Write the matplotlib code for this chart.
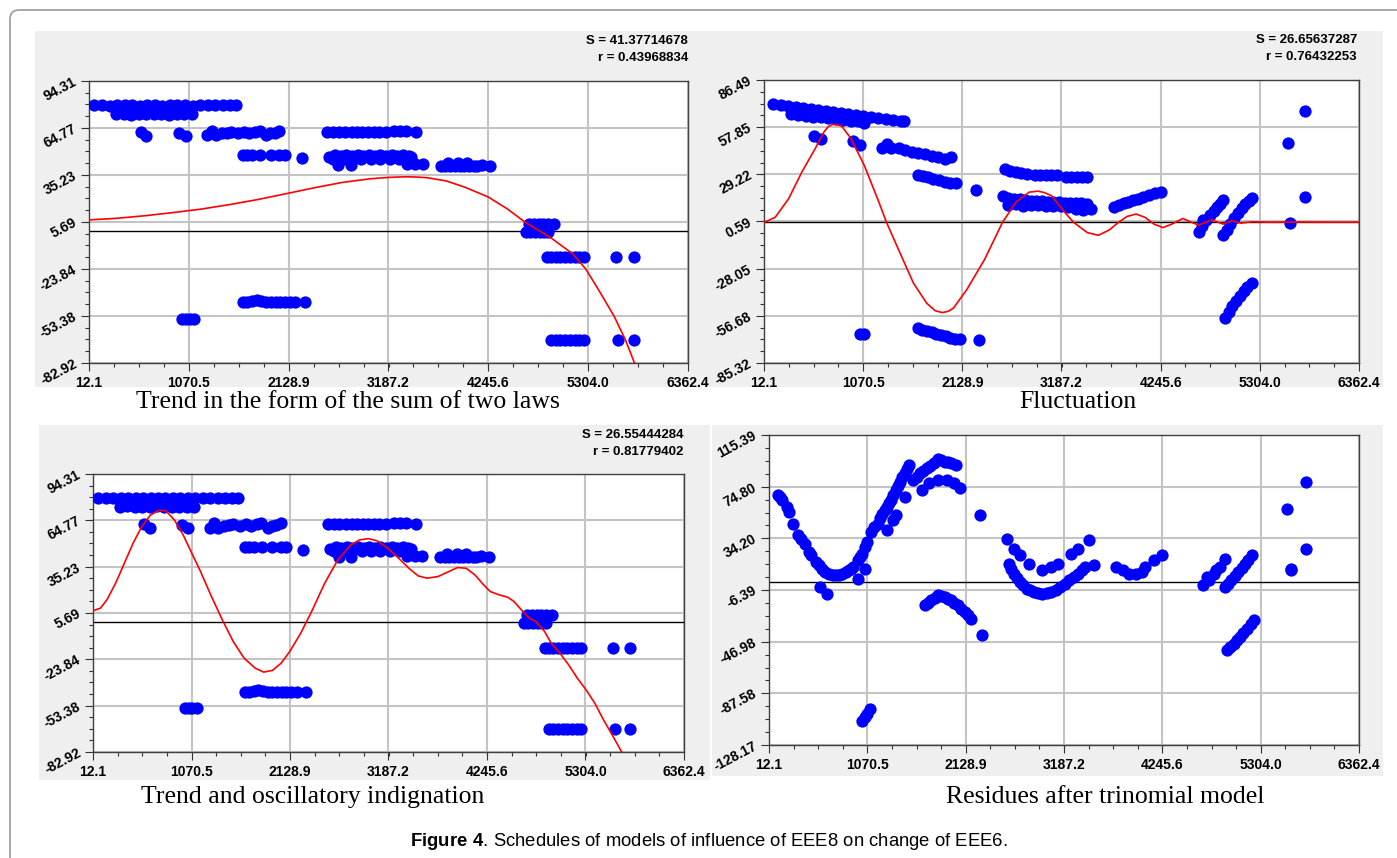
import matplotlib
matplotlib.use("Agg")
import matplotlib.pyplot as plt
from matplotlib.patches import Rectangle, FancyBboxPatch
from matplotlib.ticker import AutoMinorLocator
from matplotlib.transforms import IdentityTransform

plt.rcParams["font.family"] = ["Liberation Sans", "DejaVu Sans"]
plt.rcParams["mathtext.fontset"] = "custom"
plt.rcParams["mathtext.rm"] = "Liberation Sans"
plt.rcParams["mathtext.bf"] = "Liberation Sans:bold"

# ---- axis ticks -------------------------------------------------------------
x_ticks = [12.1, 1070.5, 2128.9, 3187.2, 4245.6, 5304.0, 6362.4]
x_tick_labels = ["12.1", "1070.5", "2128.9", "3187.2", "4245.6", "5304.0", "6362.4"]

trend_yticks = [-82.92, -53.38, -23.84, 5.69, 35.23, 64.77, 94.31]
fluct_yticks = [-85.32, -56.68, -28.05, 0.59, 29.22, 57.85, 86.49]
resid_yticks = [-128.17, -87.58, -46.98, -6.39, 34.20, 74.80, 115.39]

# ---- observed EEE6 values (same points in panels 1 and 3) --------------------
trend_points = [
    # top band
    (70, 79.0), (150, 79.2), (230, 78.9), (310, 79.1), (390, 79.0), (470, 79.2),
    (550, 78.9), (630, 79.0), (710, 79.1), (790, 78.9), (870, 79.0), (950, 79.2),
    (1030, 79.0), (1110, 78.9), (1190, 79.1), (1270, 79.0), (1350, 79.0),
    (1430, 79.1), (1510, 79.0), (1566, 79.0),
    (300, 73.4), (380, 73.6), (460, 73.2), (540, 73.5), (620, 73.3), (700, 73.6),
    (780, 73.4), (860, 73.2), (940, 73.5), (1020, 73.3), (1100, 73.4),
    # around 60
    (565, 62.2), (621, 59.7), (967, 61.8), (1036, 59.7), (1266, 60.1), (1312, 62.8),
    (1359, 60.1), (1420, 61.4), (1474, 61.8), (1520, 62.2), (1589, 61.4),
    (1658, 62.2), (1705, 61.4), (1774, 62.2), (1820, 62.8), (1889, 60.1),
    (1935, 61.4), (1981, 61.8), (2027, 62.8),
    (1640, 48.0), (1690, 48.0), (1740, 48.0), (1830, 48.0), (1940, 48.0),
    (2030, 48.0), (2090, 48.0), (2272, 46.1),
    (2540, 62.4), (2600, 62.4), (2660, 62.4), (2730, 62.4), (2800, 62.4),
    (2850, 62.4), (2910, 62.4), (2970, 62.4), (3030, 62.4), (3090, 62.4),
    (3160, 62.4), (3250, 63.0), (3310, 63.0), (3370, 62.8), (3480, 62.2),
    # around 46
    (2560, 46.5), (2620, 47.5), (2680, 47.0), (2740, 47.5), (2800, 47.0),
    (2860, 47.5), (2920, 47.0), (2980, 47.5), (3040, 47.0), (3100, 47.5),
    (3160, 47.0), (3220, 47.5), (3280, 47.0), (3340, 47.5), (3400, 47.0),
    (3430, 46.5),
    (2600, 45.0), (2700, 45.0), (2800, 45.0), (2900, 45.0), (3000, 45.0),
    (3100, 45.0), (3200, 45.0), (3300, 45.0), (3400, 44.5),
    (2650, 41.5), (2788, 41.5), (3388, 42.3), (3470, 42.3), (3550, 42.3),
    (3740, 41.2), (3790, 41.2), (3840, 41.2), (3890, 41.2), (3940, 41.2),
    (3990, 41.2), (4040, 41.2), (4090, 41.2), (4126, 41.2), (4180, 41.8),
    (4264, 41.2), (3820, 43.0), (3920, 43.0), (4020, 43.0),
    # near zero
    (4680, 4.5), (4730, 4.5), (4780, 4.5), (4830, 4.5), (4880, 4.5), (4940, 4.5),
    (4640, -0.5), (4690, -0.5), (4740, -0.5), (4790, -0.5), (4840, -0.5),
    (4880, -0.5),
    (4865, -16.4), (4910, -16.4), (4960, -16.4), (5010, -16.4), (5060, -16.4),
    (5110, -16.4), (5160, -16.4), (5210, -16.4), (5255, -16.4), (5601, -16.4),
    (5786, -16.4),
    # negative
    (1640, -44.7), (1690, -44.7), (1740, -44.2), (1790, -43.6), (1840, -44.2),
    (1890, -44.7), (1940, -44.7), (1990, -44.7), (2040, -44.7), (2090, -44.7),
    (2140, -44.7), (2200, -44.7), (2305, -44.7),
    (1000, -55.0), (1040, -55.0), (1080, -55.0), (1125, -55.0),
    (4910, -68.2), (4960, -68.2), (5010, -68.2), (5060, -68.2), (5110, -68.2),
    (5160, -68.2), (5210, -68.2), (5255, -68.2), (5625, -68.2), (5786, -68.2),
]

# ---- values after the trend is removed (panel 2) -----------------------------
fluct_points = [
    (110, 71.8), (190, 71.3), (270, 70.7), (350, 70.1), (430, 69.5), (510, 68.9),
    (590, 68.3), (670, 67.8), (750, 67.2), (830, 66.6), (910, 66.0), (990, 65.4),
    (1070, 64.8), (1150, 64.3), (1230, 63.7), (1310, 63.1), (1390, 62.5),
    (1470, 61.9), (1510, 61.6),
    (300, 65.7), (380, 65.3), (460, 64.8), (540, 64.3), (620, 63.8), (700, 63.3),
    (780, 62.8), (860, 62.3), (940, 61.8), (1020, 61.3), (1080, 60.6),
    (550, 52.4), (616, 50.4), (963, 49.4), (1035, 47.3),
    (1275, 45.3), (1320, 47.5), (1370, 45.5), (1450, 45.0), (1520, 44.0),
    (1590, 43.0), (1660, 42.0), (1730, 41.5), (1800, 40.5), (1870, 39.5),
    (1940, 38.6), (2010, 39.5),
    (1655, 28.9), (1710, 28.0), (1760, 27.6), (1820, 26.5), (1880, 25.6),
    (1940, 24.6), (2000, 24.0), (2057, 23.8), (2271, 19.8),
    (2581, 32.6), (2640, 31.5), (2700, 30.6), (2760, 30.0), (2820, 29.7),
    (2900, 29.0), (2960, 28.9), (3020, 28.9), (3080, 28.9), (3140, 28.9),
    (3230, 27.9), (3290, 27.9), (3350, 27.9), (3410, 27.9), (3461, 27.9),
    (2560, 15.8), (2620, 15.0), (2680, 14.5), (2740, 14.0), (2800, 13.6),
    (2860, 13.3), (2920, 13.0), (2980, 12.8), (3040, 12.6), (3100, 12.4),
    (3160, 12.2), (3220, 12.0), (3280, 11.8), (3340, 11.8), (3400, 11.8),
    (3460, 11.5),
    (2620, 10.5), (2700, 11.2), (2780, 10.0), (2860, 10.8), (2940, 10.5),
    (3020, 10.2), (3100, 10.0), (3180, 9.8), (3260, 9.5), (3340, 8.0),
    (3420, 7.8), (3500, 8.0),
    (3746, 9.6), (3800, 10.6), (3850, 11.6), (3900, 12.6), (3950, 13.6),
    (4000, 14.5), (4060, 15.5), (4120, 16.8), (4180, 17.8), (4245, 18.7),
    (4650, -5.7), (4690, -2.0), (4698, 1.4), (4730, 1.5), (4770, 4.5),
    (4810, 7.0), (4850, 9.5), (4880, 11.5), (4911, 13.6),
    (4911, -7.8), (4950, -4.5), (4990, -1.0), (5030, 2.5), (5070, 5.5),
    (5110, 8.5), (5150, 11.0), (5190, 13.0), (5220, 14.7),
    (4935, -57.8), (4970, -54.5), (5010, -51.0), (5050, -47.5), (5090, -44.5),
    (5130, -41.5), (5170, -39.0), (5220, -37.0),
    (5601, 48.3), (5782, 67.7), (5782, 15.3), (5625, -0.6),
    (1040, -68.0), (1075, -68.0),
    (1653, -63.9), (1700, -65.0), (1750, -66.0), (1800, -66.8), (1850, -67.7),
    (1900, -68.5), (1950, -69.2), (2000, -70.0), (2050, -70.6), (2100, -71.0),
    (2309, -71.4),
]

# ---- residues after trinomial model (panel 4) -------------------------------
resid_points = [
    (108, 68.2), (132, 66.3), (156, 64.2), (203, 59.0), (227, 55.0), (275, 45.8),
    (323, 36.6), (361, 34.0), (395, 30.1), (443, 23.5), (467, 20.9), (515, 15.7),
    (553, 13.0), (586, 10.4), (620, 7.8), (658, 6.5), (696, 5.7), (730, 5.2),
    (763, 5.7), (802, 6.5), (840, 7.8), (873, 9.1), (897, 9.9), (921, 11.7),
    (969, 17.0), (993, 19.6), (1017, 22.2), (1041, 27.5), (1065, 31.4),
    (562, -4.0), (634, -9.3), (969, 2.5), (1041, 10.4),
    (1113, 39.3), (1146, 43.2), (1184, 45.8), (1208, 49.8), (1232, 53.7),
    (1256, 56.3), (1280, 59.0), (1304, 61.6), (1328, 64.2), (1352, 68.1),
    (1376, 72.1), (1400, 75.2), (1424, 78.6), (1448, 82.1), (1472, 85.2),
    (1496, 88.4), (1519, 91.8),
    (1280, 40.6), (1352, 48.5), (1376, 52.4), (1472, 66.8),
    (1567, 79.9), (1606, 82.6), (1639, 85.2), (1673, 87.3), (1711, 89.1),
    (1745, 91.2), (1783, 93.1), (1831, 96.2), (1864, 95.7), (1902, 94.4),
    (1941, 93.9), (1974, 93.1), (2022, 91.8),
    (1663, 72.1), (1735, 77.3), (1831, 80.0), (1927, 80.0), (1998, 77.3),
    (2070, 73.4), (2285, 52.4),
    (1687, -18.5), (1720, -16.6), (1759, -14.5), (1797, -12.4), (1831, -10.6),
    (1864, -11.1), (1902, -11.9), (1941, -13.2), (1974, -14.5), (2008, -16.4),
    (2046, -18.5), (2084, -21.1), (2118, -23.7), (2151, -26.3), (2190, -29.0),
    (2309, -42.1),
    (1017, -109.0), (1041, -106.0), (1065, -103.8), (1103, -99.8),
    (2572, 34.0), (2644, 26.2), (2716, 20.9), (2811, 13.8),
    (2596, 14.4), (2620, 10.4), (2644, 6.5), (2678, 3.1), (2716, 0.0),
    (2750, -2.7), (2788, -5.3), (2821, -6.6), (2859, -7.9), (2907, -8.8),
    (2955, -9.3), (3003, -8.8), (3051, -7.9), (3099, -6.1), (3146, -4.0),
    (3194, -1.4), (3242, 1.2), (3290, 3.9), (3338, 6.5), (3376, 9.1),
    (3410, 11.7), (3505, 13.0),
    (2955, 9.1), (3051, 11.7), (3123, 14.4),
    (3266, 22.2), (3338, 26.2), (3458, 32.7),
    (3745, 11.7), (3817, 9.1), (3889, 6.5), (3960, 5.9), (4032, 7.8),
    (4056, 11.7), (4152, 17.0), (4247, 20.9),
    (4678, -2.7), (4726, 3.9), (4750, 1.2), (4798, 5.9), (4822, 9.1),
    (4870, 11.7), (4918, 18.3),
    (4918, -4.0), (4956, -1.4), (4990, 1.2), (5028, 4.4), (5062, 7.8),
    (5100, 11.2), (5134, 14.4), (5168, 17.5), (5206, 20.9),
    (4941, -53.9), (4975, -51.3), (5014, -48.6), (5052, -46.0), (5086, -43.4),
    (5119, -40.2), (5158, -36.8), (5196, -33.4), (5230, -30.3),
    (5587, 57.6), (5630, 10.4), (5635, 9.1), (5787, 78.6), (5787, 26.2),
]

# ---- model curves -------------------------------------------------------------
trend_curve_x = [12, 300, 600, 900, 1200, 1500, 1800, 2128, 2400, 2700, 3000,
                 3187, 3300, 3400, 3500, 3600, 3800, 4000, 4245, 4450, 4633,
                 4910, 5140, 5278, 5420, 5578, 5700, 5795]
trend_curve_y = [7.0, 8.0, 9.6, 11.6, 13.8, 16.6, 19.8, 23.8, 27.2, 30.6, 32.9,
                 33.7, 34.0, 34.1, 33.9, 33.5, 31.5, 27.5, 21.4, 13.8, 5.7,
                 -4.3, -14.3, -23.8, -37.5, -53.4, -68.5, -82.9]

fluct_curve_x = [12, 131, 274, 416, 559, 654, 700, 749, 800, 845, 940, 1082,
                 1225, 1320, 1463, 1606, 1748, 1840, 1915, 1980, 2034, 2176,
                 2367, 2557, 2700, 2842, 2938, 3000, 3080, 3223, 3318, 3461,
                 3580, 3699, 3794, 3889, 3984, 4079, 4174, 4269, 4364, 4483,
                 4578, 4650, 4793, 4911, 5006, 5101, 5220, 5400, 5700, 6000, 6362]
fluct_curve_y = [0.0, 3.1, 14.3, 30.6, 44.9, 55.1, 58.3, 59.6, 59.3, 58.2, 51.0,
                 34.7, 14.3, 0.0, -18.4, -36.7, -49.0, -53.6, -54.7, -53.9,
                 -52.0, -40.8, -22.4, 0.0, 12.2, 18.4, 19.0, 18.2, 16.3, 6.1,
                 0.0, -6.1, -7.8, -4.5, 0.0, 3.7, 5.1, 3.1, -1.0, -3.1, -1.0,
                 2.4, 0.0, -1.6, 1.6, -1.0, 1.0, -0.4, 0.4, 0.2, 0.3, 0.2, 0.2]

osc_curve_x = [12, 92, 162, 255, 349, 443, 536, 630, 723, 794, 887, 981, 1074,
               1168, 1285, 1402, 1519, 1636, 1753, 1846, 1940, 2034, 2127, 2244,
               2361, 2502, 2642, 2783, 2876, 2970, 3063, 3180, 3297, 3414, 3508,
               3601, 3718, 3835, 3929, 4023, 4116, 4210, 4280, 4374, 4467, 4537,
               4631, 4701, 4771, 4865, 4935, 5029, 5122, 5216, 5309, 5403, 5496,
               5590, 5693]
osc_curve_y = [7.1, 8.8, 14.1, 24.7, 37.4, 50.2, 60.8, 68.2, 71.2, 70.9, 65.0,
               55.5, 43.8, 32.1, 16.2, 1.3, -12.5, -23.1, -29.4, -32.0, -30.9,
               -26.3, -18.8, -7.2, 6.6, 24.7, 39.5, 49.1, 52.3, 53.1, 51.8, 47.0,
               40.6, 33.8, 29.3, 27.9, 28.9, 32.1, 34.7, 34.2, 30.0, 23.6, 19.4,
               17.3, 15.8, 13.0, 6.6, 2.4, 0.3, -6.1, -13.5, -19.9, -27.3, -35.8,
               -43.2, -51.7, -62.3, -71.9, -82.9]

W, H = 1397, 858


def px_axes(fig, left, top, right, bottom):
    """Add an axes given its box in image pixels (origin top-left)."""
    return fig.add_axes([left / W, 1 - bottom / H, (right - left) / W, (bottom - top) / H])


def gray_box(fig, left, top, right, bottom):
    fig.patches.append(Rectangle((left / W, 1 - bottom / H), (right - left) / W,
                                 (bottom - top) / H, transform=fig.transFigure,
                                 facecolor="#efefef", edgecolor="none", zorder=-2))


def setup_axes(ax, yticks):
    ax.set_xlim(x_ticks[0], x_ticks[-1])
    ax.set_ylim(yticks[0], yticks[-1])
    ax.set_xticks(x_ticks)
    ax.set_xticklabels(x_tick_labels, fontsize=10, fontweight="bold")
    ax.set_yticks(yticks)
    ax.set_yticklabels([f"{v:.2f}" for v in yticks], fontsize=10, fontweight="bold",
                       rotation=28, ha="right", va="center", rotation_mode="anchor")
    ax.xaxis.set_minor_locator(AutoMinorLocator(4))
    ax.yaxis.set_minor_locator(AutoMinorLocator(4))
    ax.tick_params(axis="both", which="major", length=5.5, width=0.8, color="#333333")
    ax.tick_params(axis="both", which="minor", length=3, width=0.8, color="#333333")
    ax.tick_params(axis="x", pad=4)
    ax.tick_params(axis="y", pad=4)
    ax.grid(True, which="major", color="#c4c4c4", linewidth=1.5)
    ax.set_axisbelow(True)
    for sp in ax.spines.values():
        sp.set_color("#404040")
        sp.set_linewidth(1)
    ax.axhline(0, color="black", linewidth=1, zorder=2)


def draw_points(ax, points):
    xs = [p[0] for p in points]
    ys = [p[1] for p in points]
    ax.scatter(xs, ys, s=78, c="#0000ff", linewidths=0, zorder=3)


def stats_text(fig, right, top, s_val, r_val):
    fig.text(right / W, 1 - top / H, f"S = {s_val}", ha="right", va="center",
             fontsize=9.5, fontweight="bold")
    fig.text(right / W, 1 - (top + 17) / H, f"r = {r_val}", ha="right", va="center",
             fontsize=9.5, fontweight="bold")


def caption(fig, x, y, text):
    fig.text(x / W, 1 - y / H, text, ha="center", va="center", fontsize=18.5,
             family=["Liberation Serif", "DejaVu Serif"])


fig = plt.figure(figsize=(W / 100, H / 100), dpi=100)

# outer rounded frame
frame = FancyBboxPatch((10, -30), 1430, H - 10 + 30,
                       boxstyle="round,pad=0,rounding_size=9",
                       transform=IdentityTransform(), facecolor="none",
                       edgecolor="#9a9a9a", linewidth=1.2, zorder=-3)
fig.patches.append(frame)

gray_box(fig, 35, 31, 1383, 387)
gray_box(fig, 39, 425, 710, 780)
gray_box(fig, 712, 425, 1383, 776)

# panel 1 - trend as sum of two laws
ax1 = px_axes(fig, 89, 81, 688, 363)
setup_axes(ax1, trend_yticks)
draw_points(ax1, trend_points)
ax1.plot(trend_curve_x, trend_curve_y, color="#ff0000", linewidth=1.2, zorder=4)
stats_text(fig, 688, 41, "41.37714678", "0.43968834")
caption(fig, 348, 402, "Trend in the form of the sum of two laws")

# panel 2 - fluctuation
ax2 = px_axes(fig, 764, 80, 1359, 363)
setup_axes(ax2, fluct_yticks)
draw_points(ax2, fluct_points)
ax2.plot(fluct_curve_x, fluct_curve_y, color="#ff0000", linewidth=1.2, zorder=4)
stats_text(fig, 1357, 40, "26.65637287", "0.76432253")
caption(fig, 1078, 402, "Fluctuation")

# panel 3 - trend and oscillation
ax3 = px_axes(fig, 93, 474, 684, 752)
setup_axes(ax3, trend_yticks)
draw_points(ax3, trend_points)
ax3.plot(osc_curve_x, osc_curve_y, color="#ff0000", linewidth=1.2, zorder=4)
stats_text(fig, 683, 435, "26.55444284", "0.81779402")
caption(fig, 313, 797, "Trend and oscillatory indignation")

# panel 4 - residues
ax4 = px_axes(fig, 769, 435, 1359, 745)
setup_axes(ax4, resid_yticks)
draw_points(ax4, resid_points)
caption(fig, 1105, 797, "Residues after trinomial model")

fig.text(709 / W, 1 - 841 / H,
         r"$\mathbf{Figure\ 4}$. Schedules of models of influence of EEE8 on change of EEE6.",
         ha="center", va="center", fontsize=13.3)

fig.savefig("out.png", dpi=100)
